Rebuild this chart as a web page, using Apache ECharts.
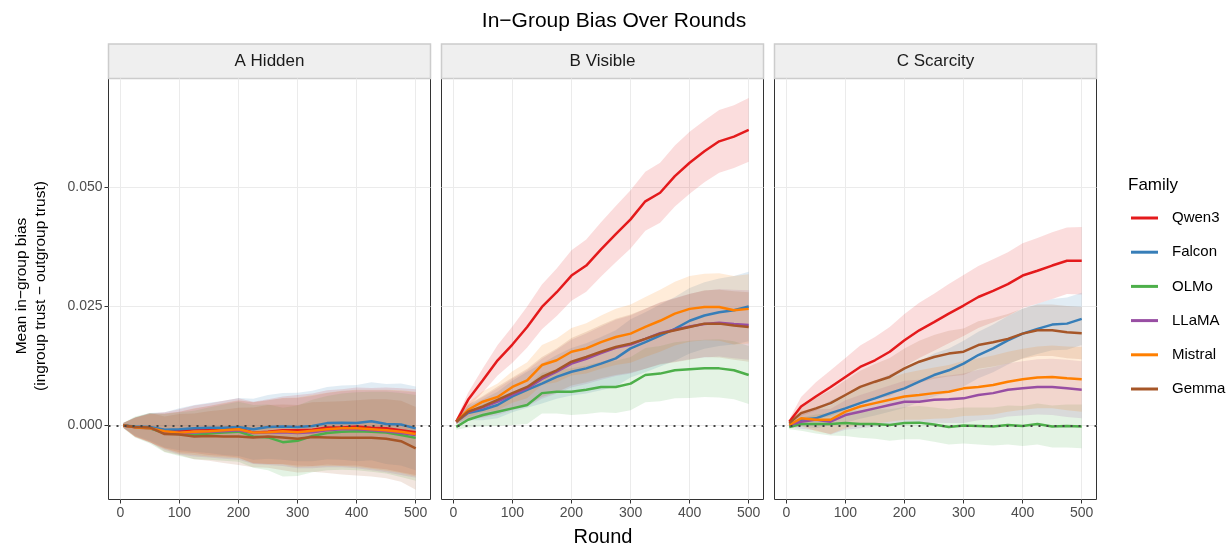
<!DOCTYPE html>
<html>
<head>
<meta charset="utf-8">
<script src="https://cdn.jsdelivr.net/npm/echarts@6/dist/echarts.min.js"></script>
<style>
  html, body { margin: 0; padding: 0; background: #fff; }
  #chart { width: 1228px; height: 546px; }
</style>
</head>
<body>
<div id="chart"></div>
<script>
// rounds sampled every 25 (first point at round 5)
const rounds = [5, 25, 50, 75, 100, 125, 150, 175, 200, 225, 250, 275, 300, 325, 350, 375, 400, 425, 450, 475, 500]
const roundTicks = [0, 100, 200, 300, 400, 500]
const biasTicks = [0, 0.025, 0.05]
const families = ['Qwen3', 'Falcon', 'OLMo', 'LLaMA', 'Mistral', 'Gemma']
const panelNames = ['A Hidden', 'B Visible', 'C Scarcity']

// mean bias, in thousandths
const qwen3Hidden = [0, -0.3, -0.5, -1, -1.1, -0.8, -0.8, -0.6, -0.5, -1.5, -1.3, -1, -1, -0.9, -0.4, -0.4, -0.2, -0.5, -0.6, -1, -1.4]
const falconHidden = [0, -0.2, -0.3, -0.9, -0.8, -0.6, -0.5, -0.5, -0.3, -0.8, -0.3, -0.2, -0.3, -0.1, 0.5, 0.6, 0.5, 0.9, 0.3, 0.2, -0.6]
const olmoHidden = [0, -0.3, -0.6, -1.6, -1.8, -2, -1.7, -1.5, -1.3, -2.3, -2.5, -3.5, -3.2, -2.2, -1.6, -1.3, -1.2, -1.3, -1.5, -2, -2.6]
const llamaHidden = [0, -0.4, -0.6, -1.3, -1.6, -1.5, -1.3, -1.2, -1, -1.6, -1.5, -1.4, -1.6, -1.4, -1, -0.8, -0.8, -1, -1.2, -1.6, -2]
const mistralHidden = [0, -0.4, -0.6, -1.2, -1.5, -1.3, -1.2, -1, -0.8, -1.5, -1.4, -1.2, -1.4, -1.1, -0.8, -0.6, -0.6, -0.8, -1, -1.3, -1.8]
const gemmaHidden = [0, -0.3, -0.4, -1.8, -1.9, -2.3, -2.2, -2.3, -2.3, -2.5, -2.3, -2.5, -2.8, -2.4, -2.5, -2.6, -2.6, -2.6, -2.8, -3.3, -4.8]

const qwen3Visible = [0.8, 5.4, 9.5, 13.7, 17, 20.7, 24.9, 28, 31.5, 33.6, 37, 40.2, 43.3, 47.1, 48.9, 52.4, 55.2, 57.6, 59.7, 60.7, 62.1]
const falconVisible = [0.8, 2.6, 3.3, 4.3, 6.1, 7.5, 8.8, 10.2, 11.3, 12, 13, 14.1, 16.2, 17.5, 18.9, 20.3, 22, 23.1, 23.8, 24.2, 25]
const olmoVisible = [-0.3, 1.2, 2.2, 2.9, 3.6, 4.3, 6.8, 7.1, 7.1, 7.5, 8.1, 8.1, 8.8, 10.6, 10.9, 11.6, 11.8, 12, 12, 11.6, 10.6]
const llamaVisible = [0.8, 2.8, 3.8, 5, 6.5, 7.8, 9.8, 11.3, 13, 14, 15.2, 16.3, 17, 18.2, 19.4, 20.1, 20.8, 21.3, 21.6, 21.3, 21.1]
const mistralVisible = [0.8, 3.3, 5, 6, 8.1, 9.5, 12.7, 13.7, 15.5, 16.2, 17.5, 18.6, 19.3, 20.7, 22, 23.5, 24.5, 24.9, 24.9, 24.2, 24.5]
const gemmaVisible = [0.8, 2.9, 4, 5.4, 6.8, 8.1, 10.2, 11.6, 13.4, 14.4, 15.5, 16.5, 17.2, 18.2, 19.3, 20, 20.7, 21.4, 21.4, 21, 20.7]

const qwen3Scarcity = [0.8, 4, 6.1, 8.1, 10.2, 12.3, 13.7, 15.5, 17.9, 20, 21.7, 23.5, 25.2, 27, 28.3, 29.7, 31.5, 32.5, 33.6, 34.6, 34.6]
const falconScarcity = [0.1, 1.2, 1.5, 2.6, 3.6, 4.7, 5.7, 6.8, 7.8, 9.2, 10.6, 11.6, 13, 14.8, 16.2, 17.9, 19.3, 20.3, 21.2, 21.4, 22.4]
const olmoScarcity = [-0.3, 0.3, 0.3, 0.3, 0.5, 0.3, 0.3, 0.1, 0.5, 0.6, 0.2, -0.3, 0, -0.1, -0.2, 0.1, -0.1, 0.3, -0.2, -0.1, -0.2]
const llamaScarcity = [0.1, 0.8, 1.2, 0.8, 2.2, 2.9, 3.6, 4.3, 5, 5, 5.4, 5.5, 5.7, 6.4, 6.8, 7.5, 7.8, 8.1, 8.1, 7.8, 7.5]
const mistralScarcity = [0.1, 1.5, 1.2, 1.2, 2.9, 4, 4.7, 5.4, 6.1, 6.4, 6.8, 7.1, 7.8, 8.1, 8.5, 9.2, 9.7, 10.1, 10.2, 9.9, 9.7]
const gemmaScarcity = [0.5, 2.6, 3.6, 4.7, 6.4, 8.1, 9.2, 10.2, 12, 13.4, 14.4, 15.1, 15.5, 16.9, 17.5, 18.2, 19.3, 20, 20, 19.6, 19.4]

// ribbon half-widths, in thousandths
const qwen3HiddenCI = [0.5, 2, 3, 3.8, 4.5, 5, 5.4, 5.8, 6.2, 6.5, 6.8, 7.1, 7.4, 7.6, 7.8, 8, 8.2, 8.4, 8.6, 8.8, 9]
const falconHiddenCI = [0.5, 1.9, 2.9, 3.7, 4.4, 4.9, 5.3, 5.7, 6.1, 6.4, 6.7, 7, 7.2, 7.4, 7.6, 7.8, 8, 8.2, 8.4, 8.6, 8.8]
const olmoHiddenCI = [0.6, 2.2, 3.2, 4, 4.6, 5.1, 5.5, 5.9, 6.3, 6.6, 6.9, 7.2, 7.4, 7.6, 7.8, 8, 8.2, 8.4, 8.6, 8.8, 9]
const llamaHiddenCI = [0.5, 2, 3, 3.8, 4.5, 5, 5.4, 5.8, 6.2, 6.5, 6.8, 7.1, 7.4, 7.6, 7.8, 8, 8.2, 8.4, 8.6, 8.8, 9]
const mistralHiddenCI = [0.5, 2, 3, 3.7, 4.4, 4.9, 5.3, 5.7, 6.1, 6.4, 6.7, 7, 7.3, 7.5, 7.7, 7.9, 8.1, 8.3, 8.5, 8.7, 8.9]
const gemmaHiddenCI = [0.5, 2, 3, 3.7, 4.3, 4.8, 5.2, 5.6, 6, 6.3, 6.6, 6.9, 7.1, 7.3, 7.5, 7.7, 7.9, 8.1, 8.3, 8.5, 8.7]

const qwen3VisibleCI = [0.5, 1.5, 2.5, 3.2, 3.8, 4.3, 4.7, 5, 5.3, 5.5, 5.7, 5.9, 6.1, 6.2, 6.3, 6.4, 6.5, 6.5, 6.6, 6.6, 6.7]
const falconVisibleCI = [0.5, 1.5, 2.2, 2.8, 3.3, 3.8, 4.2, 4.6, 5, 5.3, 5.6, 5.9, 6.1, 6.3, 6.5, 6.7, 6.9, 7, 7.1, 7.2, 7.3]
const olmoVisibleCI = [0.6, 1.6, 2.4, 3, 3.5, 4, 4.3, 4.6, 4.9, 5.1, 5.3, 5.5, 5.6, 5.7, 5.8, 5.9, 6, 6, 6.1, 6.1, 6.1]
const llamaVisibleCI = [0.5, 1.5, 2.2, 2.8, 3.3, 3.8, 4.2, 4.6, 5, 5.3, 5.6, 5.9, 6.1, 6.3, 6.5, 6.7, 6.9, 7, 7.1, 7.2, 7.3]
const mistralVisibleCI = [0.5, 1.5, 2.2, 2.8, 3.3, 3.8, 4.2, 4.6, 5, 5.3, 5.6, 5.9, 6.1, 6.3, 6.5, 6.7, 6.9, 7, 7.1, 7.2, 7.3]
const gemmaVisibleCI = [0.5, 1.5, 2.2, 2.8, 3.3, 3.8, 4.2, 4.6, 5, 5.3, 5.6, 5.9, 6.1, 6.3, 6.5, 6.7, 6.9, 7, 7.1, 7.2, 7.3]

const qwen3ScarcityCI = [0.5, 2, 3, 3.5, 4, 4.5, 4.9, 5.2, 5.5, 5.8, 6, 6.2, 6.4, 6.5, 6.6, 6.7, 6.8, 6.9, 7, 7, 7.1]
const falconScarcityCI = [0.5, 1.4, 2.1, 2.6, 3, 3.3, 3.6, 3.9, 4.1, 4.3, 4.5, 4.6, 4.8, 4.9, 5, 5.1, 5.2, 5.3, 5.4, 5.5, 5.5]
const olmoScarcityCI = [0.5, 1.4, 2, 2.4, 2.7, 2.9, 3.1, 3.3, 3.4, 3.5, 3.6, 3.7, 3.8, 3.9, 4, 4.1, 4.2, 4.3, 4.4, 4.5, 4.6]
const llamaScarcityCI = [0.5, 1.5, 2.2, 2.7, 3.1, 3.5, 3.8, 4.1, 4.4, 4.6, 4.8, 5, 5.2, 5.3, 5.5, 5.6, 5.7, 5.8, 5.9, 6, 6]
const mistralScarcityCI = [0.5, 1.6, 2.4, 3, 3.5, 3.9, 4.3, 4.6, 4.9, 5.2, 5.4, 5.6, 5.8, 6, 6.2, 6.3, 6.4, 6.5, 6.6, 6.7, 6.8]
const gemmaScarcityCI = [0.5, 1.5, 2.2, 2.7, 3.1, 3.4, 3.7, 4, 4.2, 4.4, 4.6, 4.8, 4.9, 5, 5.1, 5.2, 5.3, 5.4, 5.4, 5.5, 5.5]

const colors = ['#e41a1c', '#377eb8', '#4daf4a', '#984ea3', '#ff7f00', '#a65628']

// per panel, in family order
const means = [
  [qwen3Hidden, falconHidden, olmoHidden, llamaHidden, mistralHidden, gemmaHidden],
  [qwen3Visible, falconVisible, olmoVisible, llamaVisible, mistralVisible, gemmaVisible],
  [qwen3Scarcity, falconScarcity, olmoScarcity, llamaScarcity, mistralScarcity, gemmaScarcity]
]
const cis = [
  [qwen3HiddenCI, falconHiddenCI, olmoHiddenCI, llamaHiddenCI, mistralHiddenCI, gemmaHiddenCI],
  [qwen3VisibleCI, falconVisibleCI, olmoVisibleCI, llamaVisibleCI, mistralVisibleCI, gemmaVisibleCI],
  [qwen3ScarcityCI, falconScarcityCI, olmoScarcityCI, llamaScarcityCI, mistralScarcityCI, gemmaScarcityCI]
]
const k = 1000 // values stored as thousandths

const panelLeft = [108.5, 441.5, 774.5]
const panelWidth = 322
const panelTop = 78.5
const panelHeight = 421
const stripTop = 44
const font = 'Liberation Sans, Arial, sans-serif'

const chart = echarts.init(document.getElementById('chart'))

const grids = panelLeft.map(l => ({
  left: l, top: panelTop, width: panelWidth, height: panelHeight,
  show: true, borderColor: '#333', borderWidth: 1, backgroundColor: 'transparent'
}))

const xAxes = panelLeft.map((l, i) => ({
  gridIndex: i, type: 'value', min: -20, max: 525, position: 'bottom',
  axisLine: { show: false, onZero: false },
  splitLine: { show: false },
  axisTick: { show: true, inside: false, length: 4, lineStyle: { color: '#333' }, customValues: roundTicks },
  axisLabel: { customValues: roundTicks, color: '#4d4d4d', fontSize: 14, fontFamily: font, margin: 7 }
}))

const yAxes = panelLeft.map((l, i) => ({
  gridIndex: i, type: 'value', min: -0.01555, max: 0.0729, position: 'left',
  axisLine: { show: false, onZero: false },
  splitLine: { show: false },
  axisTick: { show: i === 0, inside: false, length: 4, lineStyle: { color: '#333' }, customValues: biasTicks },
  axisLabel: {
    show: i === 0, customValues: biasTicks, color: '#4d4d4d', fontSize: 14, fontFamily: font, margin: 6,
    formatter: v => v.toFixed(3)
  }
}))

const series = []
panelLeft.forEach((l, p) => {
  // grid lines
  series.push({
    type: 'line', xAxisIndex: p, yAxisIndex: p, data: [], silent: true, z: 0,
    markLine: {
      symbol: 'none', silent: true, animation: false, label: { show: false },
      precision: 5, z: 0,
      lineStyle: { color: '#ebebeb', width: 1, type: 'solid' },
      data: roundTicks.map(v => ({ xAxis: v })).concat(biasTicks.map(v => ({ yAxis: v })))
    }
  })
  // ribbons
  families.forEach((f, j) => {
    const lo = means[p][j].map((m, i) => (m - cis[p][j][i]) / k)
    const hi = means[p][j].map((m, i) => (m + cis[p][j][i]) / k)
    series.push({
      type: 'custom', name: f + ' band', xAxisIndex: p, yAxisIndex: p, z: 1, silent: true,
      clip: true,
      data: rounds.map((r, i) => [r, lo[i], hi[i]]),
      encode: { x: 0, y: [1, 2] },
      renderItem: (params, api) => {
        if (params.dataIndex !== 0) return null
        const pts = []
        rounds.forEach((r, i) => pts.push(api.coord([r, hi[i]])))
        for (let i = rounds.length - 1; i >= 0; i--) pts.push(api.coord([rounds[i], lo[i]]))
        return { type: 'polygon', shape: { points: pts }, style: { fill: colors[j], opacity: 0.15 } }
      }
    })
  })
  // mean lines
  families.forEach((f, j) => {
    series.push({
      type: 'line', name: f, xAxisIndex: p, yAxisIndex: p, z: 2,
      showSymbol: false, symbol: 'none', silent: true,
      color: colors[j],
      lineStyle: { color: colors[j], width: 2.5 },
      data: rounds.map((r, i) => [r, means[p][j][i] / k])
    })
  })
  // dotted zero reference
  series.push({
    type: 'line', xAxisIndex: p, yAxisIndex: p, data: [], silent: true, z: 3,
    markLine: {
      symbol: 'none', silent: true, animation: false, label: { show: false },
      precision: 5, z: 5,
      lineStyle: { color: '#444', width: 2, type: [2, 6] },
      data: [{ yAxis: 0 }]
    }
  })
})

const graphic = [
  {
    type: 'text', left: 'center', top: 11,
    style: { text: 'In\u2212Group Bias Over Rounds', font: '21px ' + font, fill: '#000' }
  },
  {
    type: 'text', x: 603, y: 537,
    style: { text: 'Round', font: '20px ' + font, fill: '#000', align: 'center', verticalAlign: 'middle' }
  },
  {
    type: 'text', x: 31, y: 286, rotation: Math.PI / 2,
    style: {
      text: 'Mean in\u2212group bias\n(ingroup trust \u2212 outgroup trust)',
      font: '15.5px ' + font, fill: '#000', align: 'center', verticalAlign: 'middle', lineHeight: 19
    }
  },
  {
    type: 'text', x: 1128, y: 185,
    style: { text: 'Family', font: '17px ' + font, fill: '#000', verticalAlign: 'middle' }
  }
]
panelLeft.forEach((l, p) => {
  graphic.push({
    type: 'rect', shape: { x: l, y: stripTop, width: panelWidth, height: panelTop - stripTop },
    style: { fill: '#efefef', stroke: '#cccccc', lineWidth: 1.5 }
  })
  graphic.push({
    type: 'text', x: l + panelWidth / 2, y: stripTop + (panelTop - stripTop) / 2,
    style: { text: panelNames[p], font: '17px ' + font, fill: '#1a1a1a', align: 'center', verticalAlign: 'middle' }
  })
})

chart.setOption({
  animation: false,
  backgroundColor: '#fff',
  textStyle: { fontFamily: font },
  grid: grids,
  xAxis: xAxes,
  yAxis: yAxes,
  legend: {
    data: families, orient: 'vertical', left: 1131, top: 209,
    icon: 'rect', itemWidth: 27, itemHeight: 3, itemGap: 16.2, padding: 0,
    selectedMode: false,
    textStyle: { fontSize: 15, color: '#000', fontFamily: font, lineHeight: 18, padding: [0, 0, 0, 9] }
  },
  graphic: graphic,
  series: series
})
</script>
</body>
</html>
